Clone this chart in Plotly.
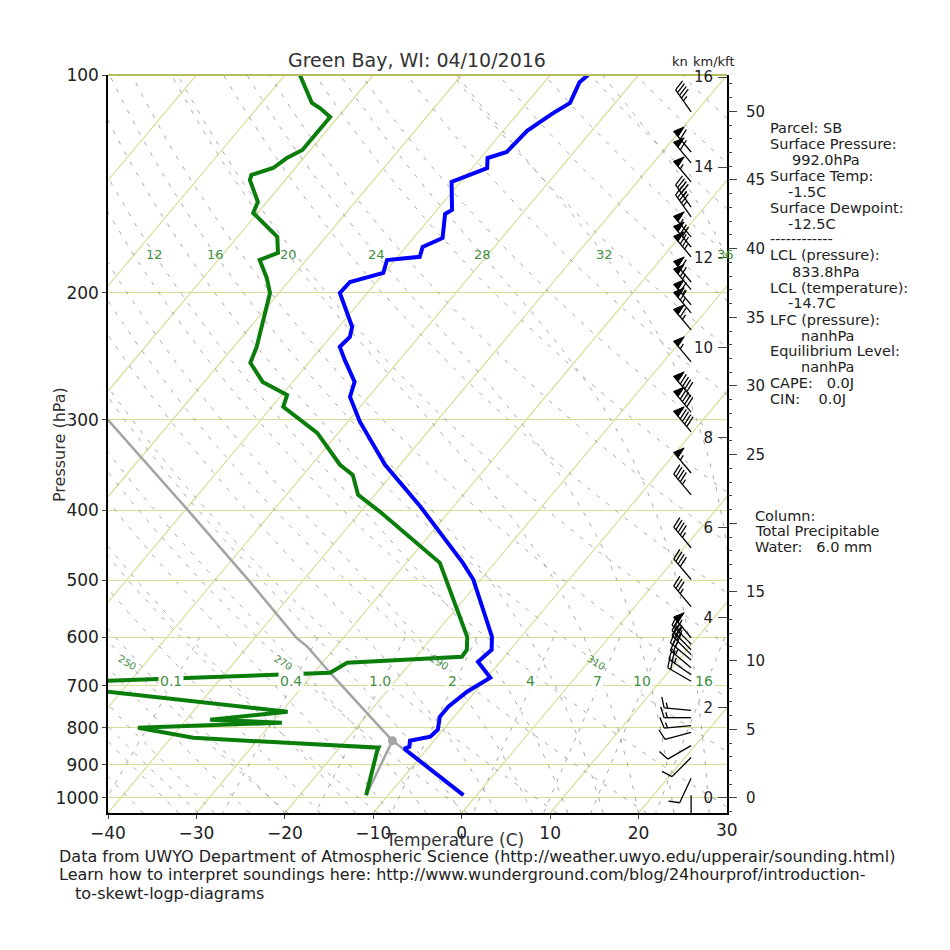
import numpy as np
import plotly.graph_objects as go

# ---------------- data ----------------
title_text = "Green Bay, WI: 04/10/2016"

temp_p = [100, 102.3, 109.3, 113.2, 119.5, 127.8, 130.3, 134.5, 140.6, 153.7, 155.7, 168.1,
          173.0, 178.5, 180.3, 187.9, 193.4, 200.3, 223.1, 230.4, 237.8, 247.9, 265.9, 278.9,
          302.0, 346.2, 395.8, 473.2, 499.4, 598.8, 624.2, 648.5, 682.3, 713.5, 748.4, 772.7,
          805.4, 823.5, 834.2, 850.3, 855.6, 992.0]
temp_c = [-55.7, -56.0, -55.1, -56.1, -57.3, -57.6, -59.2, -58.3, -61.0, -58.3, -58.7, -56.7,
          -58.1, -57.5, -60.9, -60.1, -63.0, -63.1, -58.5, -57.8, -58.0, -56.2, -53.0, -52.1,
          -48.6, -41.7, -33.7, -23.6, -20.8, -13.3, -12.1, -12.5, -9.6, -10.9, -11.6, -11.6,
          -10.6, -10.8, -12.7, -12.2, -12.6, -1.5]

dew_p = [100, 101.6, 109.3, 111.1, 114.3, 127.0, 130.3, 134.5, 137.5, 139.7, 149.9, 155.2,
         167.5, 176.3, 180.3, 190.9, 200.3, 237.8, 250.2, 265.9, 277.1, 287.9, 312.7, 346.2,
         357.5, 381.0, 402.2, 473.2, 598.8, 624.2, 638.3, 650.6, 671.5, 688.9, 700.0, 713.5,
         760.3, 780.0, 787.5, 800.2, 826.2, 852.8, 863.8, 992.0]
dew_c = [-88.3, -87.6, -84.3, -82.9, -80.9, -80.9, -81.9, -82.5, -84.3, -84.0, -81.0, -80.5,
         -75.5, -73.9, -75.3, -72.8, -71.0, -67.4, -66.6, -63.4, -59.4, -58.7, -52.4, -46.8,
         -44.4, -41.9, -37.8, -26.2, -16.1, -14.9, -14.8, -27.2, -28.2, -52.5, -70.0, -51.5,
         -29.3, -37.3, -28.9, -44.7, -37.5, -15.6, -15.4, -12.5]

parcel_p = [992.0, 900.0, 833.8, 800.0, 700.0, 671.5, 618.4, 600.0, 500.0, 400.0, 302.0, 280.0]
parcel_c = [-1.5, -8.9, -14.7, -17.3, -25.7, -28.2, -33.2, -35.4, -46.2, -59.7, -76.9, -81.6]

lcl_line_p = [992.0, 833.8]
lcl_line_c = [-12.5, -14.7]
lcl_p, lcl_c = 833.8, -14.7

barb_p = [112.5, 127.8, 132.3, 140.6, 152.3, 157.2, 167.5, 173.0, 178.5, 193.4, 198.1, 208.0,
          213.4, 225.3, 249.4, 278.9, 292.7, 311.7, 355.4, 381.0, 451.0, 499.0, 544.0, 600.7,
          613.0, 624.0, 634.0, 645.0, 661.0, 676.0, 690.0, 757.0, 775.0, 795.0, 812.0, 847.0,
          880.0, 940.0, 992.0]
barb_spd = [45, 60, 60, 55, 45, 45, 55, 70, 75, 60, 65, 65,
            65, 65, 55, 90, 90, 90, 55, 45, 45, 40, 35, 50,
            35, 35, 30, 30, 25, 25, 20, 15, 15, 15, 10, 10,
            10, 10, 5]
barb_dir = [325, 320, 320, 320, 325, 325, 320, 320, 320, 320, 320, 320,
            320, 320, 320, 320, 320, 320, 320, 320, 320, 320, 320, 320,
            315, 315, 315, 310, 310, 305, 300, 275, 270, 265, 255, 240,
            225, 205, 180]

pressure_ticks = [100, 200, 300, 400, 500, 600, 700, 800, 900, 1000]
temp_ticks = [-40, -30, -20, -10, 0, 10, 20, 30]
km_ticks = [0, 2, 4, 6, 8, 10, 12, 14, 16]
kft_ticks = [0, 5, 10, 15, 20, 25, 30, 35, 40, 45, 50]
kft_labels = ["0", "5", "10", "15", "", "25", "30", "35", "40", "45", "50"]

isotherm_values = list(range(-120, 31, 10))
dry_adiabat_thetas = list(range(230, 461, 10))
dry_label_thetas = [250, 270, 290, 310]
moist_adiabat_t0 = list(range(-40, 41, 4))
moist_label_t0 = [12, 16, 20, 24, 28, 32, 36]
mixing_ratios = [0.1, 0.4, 1.0, 2, 4, 7, 10, 16]
mixing_labels = ["0.1", "0.4", "1.0", "2", "4", "7", "10", "16"]

info_lines = [
    ("Parcel: SB", 768, 128), ("Surface Pressure:", 768, 144), ("992.0hPa", 790, 160),
    ("Surface Temp:", 768, 176), ("-1.5C", 786, 192), ("Surface Dewpoint:", 768, 208),
    ("-12.5C", 786, 224), ("------------", 768, 239), ("LCL (pressure):", 768, 255),
    ("833.8hPa", 790, 272), ("LCL (temperature):", 768, 288), ("-14.7C", 786, 303),
    ("LFC (pressure):", 768, 320), ("nanhPa", 799, 336), ("Equilibrium Level:", 768, 351),
    ("nanhPa", 799, 367), ("CAPE:   0.0J", 768, 383), ("CIN:    0.0J", 768, 399),
    ("Column:", 753, 516), ("Total Precipitable", 753, 531), ("Water:   6.0 mm", 753, 547),
]
footer_lines = [
    ("Data from UWYO Department of Atmospheric Science (http://weather.uwyo.edu/upperair/sounding.html)", 57, 856),
    ("Learn how to interpret soundings here: http://www.wunderground.com/blog/24hourprof/introduction-", 57, 875),
    ("to-skewt-logp-diagrams", 73, 893),
]

# ---------------- layout constants ----------------
W = H = 950
ML, MR, MT, MB = 108, 223, 75, 137
PW, PH = W - ML - MR, H - MT - MB
P_BOT, P_TOP = 1050.0, 100.0
T_LEFT, T_RIGHT = -40.0, 30.0
DEC = np.log10(P_BOT / P_TOP)
PX_PER_DEC = PH / DEC
KM_BOT, KM_TOP = -0.333, 16.045
FONT = "DejaVu Sans"
ISO_COLOR = "#d8de97"
DASH_COLOR = "rgba(110,110,110,0.6)"
LABEL_GREEN = "#3f8f3f"


def skew_x(T, p):
    T = np.asarray(T, dtype=float)
    p = np.asarray(p, dtype=float)
    return T + (T_RIGHT - T_LEFT) * np.log10(P_BOT / p) / DEC


def px(xp):
    return (xp - ML) / PW


def py(yp):
    return 1 - (yp - MT) / PH


def join(segs_x, segs_y):
    xs, ys = [], []
    for a, b in zip(segs_x, segs_y):
        xs += list(a) + [None]
        ys += list(b) + [None]
    return xs, ys


# thermodynamics for background reference lines
Rd, Cp, Lv, EPS = 287.04, 1005.7, 2.501e6, 0.622


def sat_vp(tc):
    return 6.112 * np.exp(17.67 * tc / (tc + 243.5))


def dTdp(T, p):
    es = sat_vp(T - 273.15)
    rs = EPS * es / (p - es)
    return (Rd * T + Lv * rs) / (p * (Cp + Lv * Lv * rs * EPS / (Rd * T * T)))


def integrate(T0, p_path):
    T = np.array(T0, dtype=float)
    out = [T.copy()]
    for i in range(len(p_path) - 1):
        p0, p1 = p_path[i], p_path[i + 1]
        h = p1 - p0
        k1 = dTdp(T, p0)
        k2 = dTdp(T + h / 2 * k1, p0 + h / 2)
        k3 = dTdp(T + h / 2 * k2, p0 + h / 2)
        k4 = dTdp(T + h * k3, p1)
        T = T + h / 6 * (k1 + 2 * k2 + 2 * k3 + k4)
        out.append(T.copy())
    return np.array(out)


fig = go.Figure()

# isotherms
segx, segy = [], []
for t in isotherm_values:
    pp = np.array([P_BOT, P_TOP])
    segx.append(skew_x([t, t], pp)); segy.append(pp)
xs, ys = join(segx, segy)
fig.add_trace(go.Scatter(x=xs, y=ys, mode="lines", line=dict(color=ISO_COLOR, width=1.2),
                         hoverinfo="skip"))

# dry adiabats
pgrid = np.geomspace(P_BOT, P_TOP, 80)
segx, segy = [], []
for th in dry_adiabat_thetas:
    tc = th * (pgrid / 1000.0) ** (Rd / Cp) - 273.15
    segx.append(skew_x(tc, pgrid)); segy.append(pgrid)
xs, ys = join(segx, segy)
fig.add_trace(go.Scatter(x=xs, y=ys, mode="lines",
                         line=dict(color=DASH_COLOR, width=1, dash="4px,8px"), hoverinfo="skip"))

# moist adiabats (reference temperature at the bottom of the diagram, 1050 hPa)
p_all = np.arange(P_BOT, P_TOP - 1, -2.0)
T0k = np.array(moist_adiabat_t0, dtype=float) + 273.15
T_all = integrate(T0k, p_all) - 273.15
segx, segy = [], []
for j in range(len(moist_adiabat_t0)):
    segx.append(skew_x(T_all[:, j], p_all)); segy.append(p_all)
xs, ys = join(segx, segy)
fig.add_trace(go.Scatter(x=xs, y=ys, mode="lines",
                         line=dict(color=DASH_COLOR, width=1, dash="4px,8px"), hoverinfo="skip"))

# mixing ratio lines
pm = np.linspace(600, P_BOT, 30)
segx, segy = [], []
for w in mixing_ratios:
    e = w * pm / (622.0 + w)
    a = np.log(e / 6.112)
    td = 243.5 * a / (17.67 - a)
    segx.append(skew_x(td, pm)); segy.append(pm)
xs, ys = join(segx, segy)
fig.add_trace(go.Scatter(x=xs, y=ys, mode="lines",
                         line=dict(color=DASH_COLOR, width=1, dash="4px,7px"), hoverinfo="skip"))

# parcel, LCL line
fig.add_trace(go.Scatter(x=skew_x(parcel_c, parcel_p), y=parcel_p, mode="lines",
                         line=dict(color="#a4a4a4", width=2.5), hoverinfo="skip"))
fig.add_trace(go.Scatter(x=skew_x(lcl_line_c, lcl_line_p), y=lcl_line_p, mode="lines",
                         line=dict(color="#a4a4a4", width=2.5), hoverinfo="skip"))

# temperature & dewpoint
fig.add_trace(go.Scatter(x=skew_x(dew_c, dew_p), y=dew_p, mode="lines",
                         line=dict(color="#0a7d0a", width=4), hoverinfo="skip"))
fig.add_trace(go.Scatter(x=skew_x(temp_c, temp_p), y=temp_p, mode="lines",
                         line=dict(color="#0000ff", width=4), hoverinfo="skip"))
fig.add_trace(go.Scatter(x=skew_x([lcl_c], [lcl_p]), y=[lcl_p], mode="markers",
                         marker=dict(color="#a4a4a4", size=9), hoverinfo="skip"))

# wind barbs (x2 axis: fraction of plot width; y: pressure)
BARB_X = 0.942
L = 27.0
full_h, full_w, spacing = 0.4 * L, 0.25 * L, 0.125 * L
lx, ly, fx, fy = [], [], [], []
for p, spd, wd in zip(barb_p, barb_spd, barb_dir):
    d = np.deg2rad(wd)
    s = np.array([np.sin(d), np.cos(d)])
    r = np.array([np.cos(d), -np.sin(d)])

    def conv(u, v):
        pt = u * r + v * s
        return BARB_X + pt[0] / PW, 10 ** (np.log10(p) - pt[1] / PX_PER_DEC)

    sp = int(5 * round(spd / 5.0))
    nfl, rem = divmod(sp, 50)
    nfull, rem = divmod(rem, 10)
    half = rem >= 5
    a = conv(0, 0); b = conv(0, L)
    lx += [a[0], b[0], None]; ly += [a[1], b[1], None]
    off = L
    for i in range(nfl):
        if off != L:
            off += spacing / 2
        pts = [conv(0, off), conv(full_h, off - full_w / 2), conv(0, off - full_w), conv(0, off)]
        fx += [q[0] for q in pts] + [None]; fy += [q[1] for q in pts] + [None]
        off -= full_w + spacing
    for i in range(nfull):
        p1 = conv(0, off); p2 = conv(full_h, off + full_w / 2)
        lx += [p1[0], p2[0], None]; ly += [p1[1], p2[1], None]
        off -= spacing
    if half:
        if off == L:
            off -= 1.5 * spacing
        p1 = conv(0, off); p2 = conv(full_h / 2, off + full_w / 4)
        lx += [p1[0], p2[0], None]; ly += [p1[1], p2[1], None]

fig.add_trace(go.Scatter(x=lx, y=ly, mode="lines", line=dict(color="black", width=1.3),
                         xaxis="x2", yaxis="y", hoverinfo="skip"))
fig.add_trace(go.Scatter(x=fx, y=fy, mode="lines", fill="toself", fillcolor="black",
                         line=dict(color="black", width=1), xaxis="x2", yaxis="y", hoverinfo="skip"))

# dummy traces to activate height axes
fig.add_trace(go.Scatter(x=[None], y=[None], yaxis="y2", hoverinfo="skip"))
fig.add_trace(go.Scatter(x=[None], y=[None], yaxis="y3", hoverinfo="skip"))

ann = []
# moist adiabat labels
p_lab = 177.4
for t0 in moist_label_t0:
    j = moist_adiabat_t0.index(t0)
    tl = np.interp(np.log(p_lab), np.log(p_all[::-1]), T_all[::-1, j])
    ann.append(dict(x=float(skew_x(tl, p_lab)), y=np.log10(p_lab), xref="x", yref="y", text=str(t0),
                    showarrow=False, xanchor="center", yanchor="middle",
                    font=dict(family=FONT, size=13, color=LABEL_GREEN)))
# dry adiabat labels
p_dl = 649.0
for th in dry_label_thetas:
    tl = th * (p_dl / 1000.0) ** (Rd / Cp) - 273.15
    ann.append(dict(x=float(skew_x(tl, p_dl)), y=np.log10(p_dl), xref="x", yref="y", text=str(th),
                    showarrow=False, textangle=32, xanchor="center", yanchor="middle",
                    font=dict(family=FONT, size=10, color=LABEL_GREEN)))
# mixing ratio labels
p_ml = 689.0
for w, lab in zip(mixing_ratios, mixing_labels):
    e = w * p_ml / (622.0 + w)
    a = np.log(e / 6.112)
    td = 243.5 * a / (17.67 - a)
    ann.append(dict(x=float(skew_x(td, p_ml)) - 0.35, y=np.log10(p_ml), xref="x", yref="y", text=lab,
                    showarrow=False, bgcolor="white", borderpad=1, xanchor="center", yanchor="middle",
                    font=dict(family=FONT, size=14, color=LABEL_GREEN)))
# km label at the top (inside labels at the edge get hidden)
ann.append(dict(x=px(703), y=16, xref="paper", yref="y2", text="16", showarrow=False,
                xanchor="center", yanchor="middle", font=dict(family=FONT, size=15, color="#222")))
# last temperature tick label (plotly hides it where the right-hand axis crosses)
ann.append(dict(x=temp_ticks[-1], y=0, xref="x", yref="paper", text=str(temp_ticks[-1]),
                showarrow=False, xanchor="center", yanchor="top", yshift=-5,
                font=dict(family=FONT, size=17, color="#222")))


def text_ann(txt, xp_, yp_, size, xanchor="center", angle=0, color="#222"):
    return dict(x=px(xp_), y=py(yp_), xref="paper", yref="paper", text=txt, showarrow=False,
                xanchor=xanchor, yanchor="middle", textangle=angle,
                font=dict(family=FONT, size=size, color=color))


ann.append(text_ann(title_text, 417, 60, 19, color="#333"))
ann.append(text_ann("Temperature (C)", 455, 840, 17, color="#333"))
ann.append(text_ann("Pressure (hPa)", 60, 445, 16, angle=-90, color="#333"))
ann.append(text_ann("kn", 680, 62, 13))
ann.append(text_ann("km/kft", 714, 62, 13))
for txt, xp_, yp_ in info_lines:
    ann.append(text_ann(txt, xp_, yp_, 14.5, xanchor="left"))
for txt, xp_, yp_ in footer_lines:
    ann.append(text_ann(txt, xp_, yp_, 16, xanchor="left"))

fig.update_layout(
    width=W, height=H, margin=dict(l=ML, r=MR, t=MT, b=MB, pad=0),
    paper_bgcolor="white", plot_bgcolor="white", showlegend=False,
    annotations=ann,
    shapes=[dict(type="line", xref="paper", yref="paper", x0=0, x1=1, y0=1, y1=1,
                 line=dict(color="#b6bd5c", width=2))],
    xaxis=dict(range=[T_LEFT, T_RIGHT], tickvals=temp_ticks,
               ticktext=[str(v).replace("-", "\u2212") for v in temp_ticks[:-1]] + [""],
               showgrid=False, zeroline=False,
               showline=True, linecolor="black", linewidth=2, ticks="outside", ticklen=4,
               tickfont=dict(family=FONT, size=17, color="#222")),
    xaxis2=dict(range=[0, 1], overlaying="x", anchor="y", visible=False),
    yaxis=dict(type="log", range=[np.log10(P_BOT), np.log10(P_TOP)], tickvals=pressure_ticks,
               ticktext=[str(v) for v in pressure_ticks], showgrid=True, gridcolor=ISO_COLOR,
               gridwidth=1.2, zeroline=False, showline=True, linecolor="black", linewidth=1.5,
               ticks="outside", ticklen=4, tickfont=dict(family=FONT, size=17, color="#222")),
    yaxis2=dict(range=[KM_BOT, KM_TOP], overlaying="y", side="right", anchor="x",
                tickvals=km_ticks, ticks="inside", ticklabelposition="inside", ticklen=9,
                ticklabelstandoff=5,
                showgrid=False, zeroline=False, showline=True, linecolor="black", linewidth=2,
                tickfont=dict(family=FONT, size=15, color="#222")),
    yaxis3=dict(range=[KM_BOT / 0.3048, KM_TOP / 0.3048], overlaying="y", side="right", anchor="x",
                tickvals=kft_ticks, ticktext=kft_labels, ticks="outside", ticklen=9,
                ticklabelstandoff=6,
                minor=dict(dtick=1, tick0=0, ticks="outside", ticklen=4, showgrid=False),
                showgrid=False, zeroline=False, showline=False,
                tickfont=dict(family=FONT, size=15, color="#222")),
)

fig.write_html("out.html")
